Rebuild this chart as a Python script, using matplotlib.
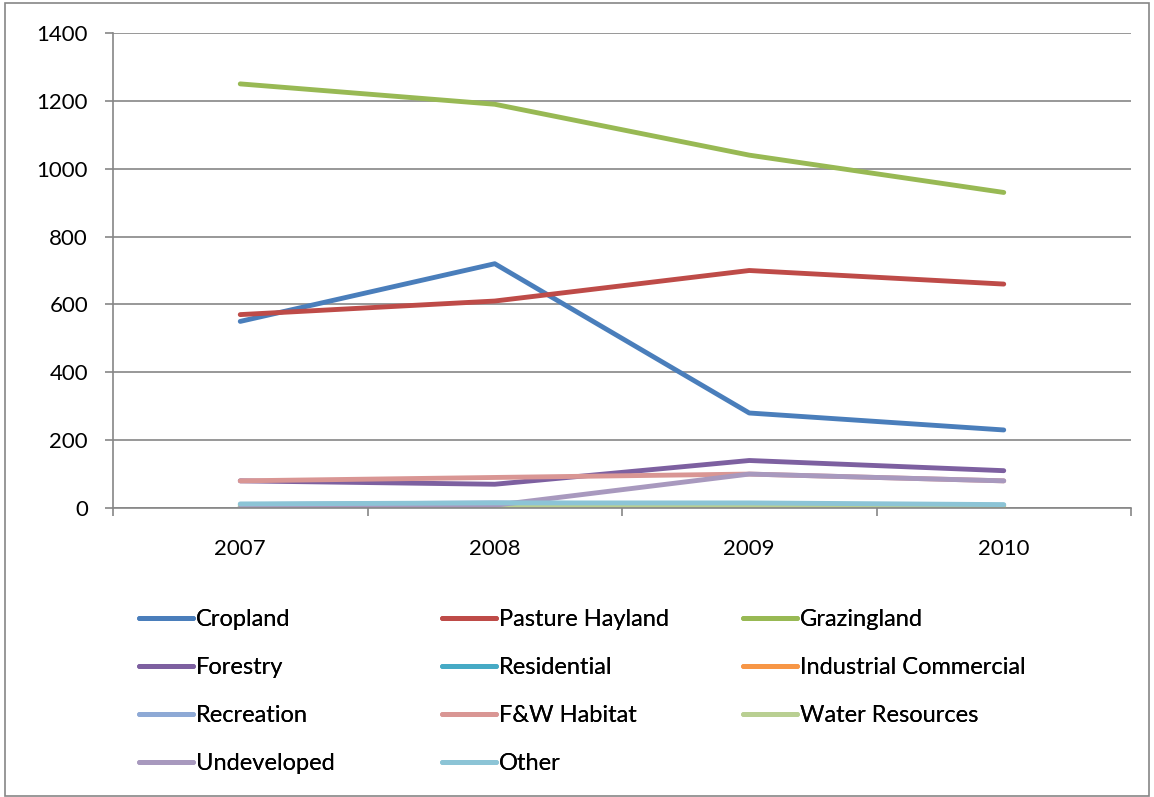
import matplotlib
matplotlib.use('Agg')
import matplotlib.pyplot as plt
from matplotlib.lines import Line2D
from matplotlib.patches import Rectangle

plt.rcParams['font.family'] = ['Lato', 'DejaVu Sans']

years = ['2007', '2008', '2009', '2010']
names = ['Cropland', 'Pasture Hayland', 'Grazingland', 'Forestry', 'Residential',
         'Industrial Commercial', 'Recreation', 'F&W Habitat', 'Water Resources',
         'Undeveloped', 'Other']
colors = ['#4A7EBB', '#BE4B48', '#98B954', '#7D60A0', '#46AAC5', '#F79646',
          '#8EA9D5', '#D99694', '#B9CF92', '#A899BE', '#8CC4D6']

cropland = [550, 720, 280, 230]
pasture = [570, 610, 700, 660]
grazing = [1250, 1190, 1040, 930]
forestry = [80, 70, 140, 110]
residential = [5, 5, 5, 0]
industrial = [0, 0, 0, 0]
recreation = [10, 15, 10, 8]
fw_habitat = [80, 90, 100, 80]
water = [5, 5, 2, 2]
undeveloped = [0, 8, 100, 80]
other = [12, 15, 15, 10]

series = [cropland, pasture, grazing, forestry, residential, industrial,
          recreation, fw_habitat, water, undeveloped, other]

fig = plt.figure(figsize=(11.54, 7.97), dpi=100)
ax = fig.add_axes([113/1154, 1 - 508/797, (1131-113)/1154, (508-33)/797])

x = list(range(len(years)))
for vals, c in zip(series, colors):
    ax.plot(x, vals, color=c, lw=3.5, solid_capstyle='round', solid_joinstyle='round')

ax.set_xlim(-0.5, 3.5)
ax.set_ylim(0, 1400)
ax.set_yticks(range(0, 1401, 200))
ax.yaxis.grid(True, color='#868686', lw=1.2)
ax.set_axisbelow(True)
ax.set_xticks(x)
ax.set_xticklabels(years)
ax.set_xticks([-0.5, 0.5, 1.5, 2.5, 3.5], minor=True)
ax.tick_params(axis='x', which='major', length=0, pad=22, labelsize=16)
ax.tick_params(axis='x', which='minor', length=6, width=1.2, color='#868686', direction='out')
ax.tick_params(axis='y', length=6, width=1.2, color='#868686', pad=12, labelsize=16)
for s in ['top', 'right']:
    ax.spines[s].set_visible(False)
for s in ['left', 'bottom']:
    ax.spines[s].set_color('#868686')
    ax.spines[s].set_linewidth(1.2)

# legend in 3 columns, placed one column at a time
handles = [Line2D([], [], color=c, lw=3.5, solid_capstyle='round') for c in colors]
col_x = [139/1154, 442/1154, 743/1154]
for i in range(3):
    idx = list(range(i, len(names), 3))
    lg = fig.legend([handles[j] for j in idx], [names[j] for j in idx],
                    loc='upper left', bbox_to_anchor=(col_x[i], 1 - 609/797),
                    frameon=False, fontsize=17, handlelength=2.3, handletextpad=0.12,
                    labelspacing=1.15, borderaxespad=0, borderpad=0)
    fig.add_artist(lg)

fig.add_artist(Rectangle((5/1154, 1/797), 1144/1154, 793/797, transform=fig.transFigure,
                         fill=False, edgecolor='#868686', lw=1.2))

fig.savefig('out.png', dpi=100)
